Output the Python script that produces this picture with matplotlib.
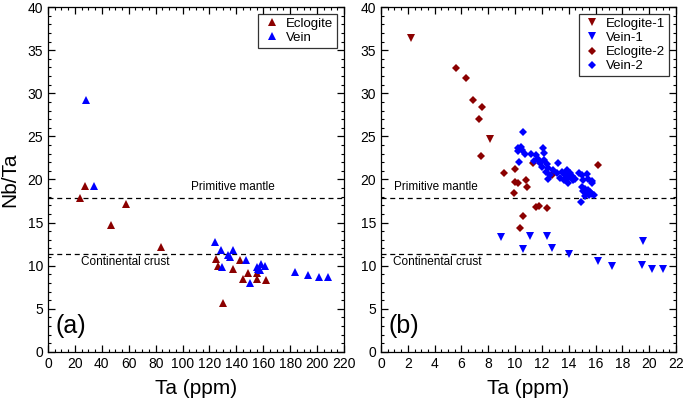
import numpy as np
import matplotlib.pyplot as plt
from matplotlib.ticker import MultipleLocator

plt.rcParams['font.family'] = ['Liberation Sans', 'DejaVu Sans']

# (a) whole-rock data
ecl_ta = [23.8, 27.5, 57.7, 46.6, 84.3, 124.9, 126.6, 137.8, 142.8, 148.9, 145.2, 155.2, 155.2, 162.0, 130.1]
ecl_nbta = [17.9, 19.3, 17.2, 14.7, 12.2, 10.8, 10.0, 9.65, 10.66, 9.2, 8.46, 9.1, 8.5, 8.3, 5.7]
vein_ta = [28.3, 34.4, 124.2, 128.6, 129.1, 134.0, 135.3, 137.3, 147.2, 150.2, 155.2, 156.4, 158.1, 157.6, 161.3, 183.9, 193.3, 201.3, 208.4]
vein_nbta = [29.2, 19.3, 12.7, 11.8, 9.85, 11.2, 11.0, 11.8, 10.66, 8.0, 9.8, 9.6, 10.2, 9.5, 10.0, 9.3, 8.9, 8.7, 8.7]

# (b) mineral data
ecl1_ta = [2.24, 8.13]
ecl1_nbta = [36.4, 24.7]
vein1_ta = [8.95, 10.56, 11.1, 12.36, 12.75, 14.0, 16.16, 17.2, 19.46, 19.5, 20.2, 21.05]
vein1_nbta = [13.3, 11.9, 13.5, 13.4, 12.05, 11.4, 10.5, 9.97, 10.1, 12.9, 9.65, 9.6]
ecl2_ta = [5.59, 6.34, 6.84, 7.56, 7.31, 7.48, 9.2, 10.0, 10.0, 10.24, 10.79, 10.86, 9.94,
           11.36, 12.73, 16.2, 10.56, 10.39, 11.56, 11.76, 12.35]
ecl2_nbta = [32.9, 31.75, 29.2, 28.4, 27.0, 22.75, 20.7, 21.2, 19.7, 19.55, 19.9, 19.1, 18.4,
             21.95, 20.5, 21.7, 15.8, 14.4, 16.8, 16.9, 16.7]
vein2_ta = [10.56, 10.24, 10.44, 10.19, 10.49, 10.29, 10.74, 11.19, 11.54, 12.06, 12.18, 11.73,
            11.43, 11.86, 12.18, 12.36, 12.03, 12.48, 12.28, 12.6, 12.48, 12.85, 13.17, 13.1,
            13.47, 13.35, 13.72, 13.67, 13.97, 14.22, 14.34, 13.92, 14.47, 14.09, 13.85, 14.77,
            15.01, 15.34, 15.46, 15.71, 15.76, 15.09, 14.96, 15.21, 15.09, 15.41, 15.34, 15.58,
            15.76, 15.91, 15.51, 15.21, 14.91]
vein2_nbta = [25.5, 23.6, 23.8, 23.3, 23.4, 22.05, 23.0, 22.9, 22.8, 23.7, 23.1, 22.4,
              22.2, 21.95, 22.25, 21.8, 21.5, 21.3, 20.9, 20.5, 20.1, 21.1, 21.95, 20.7,
              20.9, 20.2, 20.5, 19.9, 20.2, 20.4, 19.9, 19.6, 20.1, 20.7, 21.1, 20.8,
              20.5, 20.6, 20.0, 19.85, 19.55, 19.9, 19.15, 18.95, 18.7, 18.8, 18.4, 18.6,
              18.3, 18.2, 18.2, 18.1, 17.4]

pm = 17.8
cc = 11.4

red = '#8b0000'
blue = '#0000ff'

fig = plt.figure(figsize=(6.85, 4.03), dpi=100)
ax1 = fig.add_axes([0.0701, 0.1266, 0.4321, 0.856])
ax2 = fig.add_axes([0.5562, 0.1266, 0.4307, 0.856])

ax1.plot(ecl_ta, ecl_nbta, '^', color=red, ms=5.5, mew=0, label='Eclogite', zorder=3)
ax1.plot(vein_ta, vein_nbta, '^', color=blue, ms=5.5, mew=0, label='Vein', zorder=3)

ax2.plot(ecl1_ta, ecl1_nbta, 'v', color=red, ms=5.5, mew=0, label='Eclogite-1', zorder=3)
ax2.plot(vein1_ta, vein1_nbta, 'v', color=blue, ms=5.5, mew=0, label='Vein-1', zorder=3)
ax2.plot(ecl2_ta, ecl2_nbta, 'D', color=red, ms=4.3, mew=0, label='Eclogite-2', zorder=3)
ax2.plot(vein2_ta, vein2_nbta, 'D', color=blue, ms=4.3, mew=0, label='Vein-2', zorder=4)

for ax, xmax, xmaj, xmin, tx in [(ax1, 220, 20, 5, 137.7), (ax2, 22, 2, 0.5, 4.1)]:
    ax.axhline(pm, color='black', lw=0.9, ls=(0, (4, 3)), zorder=1)
    ax.axhline(cc, color='black', lw=0.9, ls=(0, (4, 3)), zorder=1)
    ax.set_xlim(0, xmax)
    ax.set_ylim(0, 40)
    ax.xaxis.set_major_locator(MultipleLocator(xmaj))
    ax.xaxis.set_minor_locator(MultipleLocator(xmin))
    ax.yaxis.set_major_locator(MultipleLocator(5))
    ax.yaxis.set_minor_locator(MultipleLocator(1))
    ax.tick_params(which='both', direction='in', top=True, right=True, labelsize=10)
    ax.tick_params(which='major', length=5, width=0.9)
    ax.tick_params(which='minor', length=2.5, width=0.8)
    for s in ax.spines.values():
        s.set_linewidth(0.9)
    ax.set_xlabel('Ta (ppm)', fontsize=15, labelpad=6)
    ax.text(tx, pm + 0.6, 'Primitive mantle', fontsize=8.5, ha='center', va='bottom')
    leg = ax.legend(loc='upper right', fontsize=9.5, frameon=True, fancybox=False,
                    edgecolor='black', handletextpad=0.3, borderpad=0.3,
                    labelspacing=0.15, handlelength=1.5, borderaxespad=0.5)
    leg.get_frame().set_linewidth(0.9)

ax1.text(57.5, cc - 0.3, 'Continental crust', fontsize=8.5, ha='center', va='top')
ax2.text(4.2, cc - 0.3, 'Continental crust', fontsize=8.5, ha='center', va='top')

ax1.text(0.025, 0.075, '(a)', transform=ax1.transAxes, fontsize=18, va='center')
ax2.text(0.025, 0.075, '(b)', transform=ax2.transAxes, fontsize=18, va='center')

ax1.set_ylabel('Nb/Ta', fontsize=15, labelpad=6)

fig.savefig('out.png', dpi=100)
